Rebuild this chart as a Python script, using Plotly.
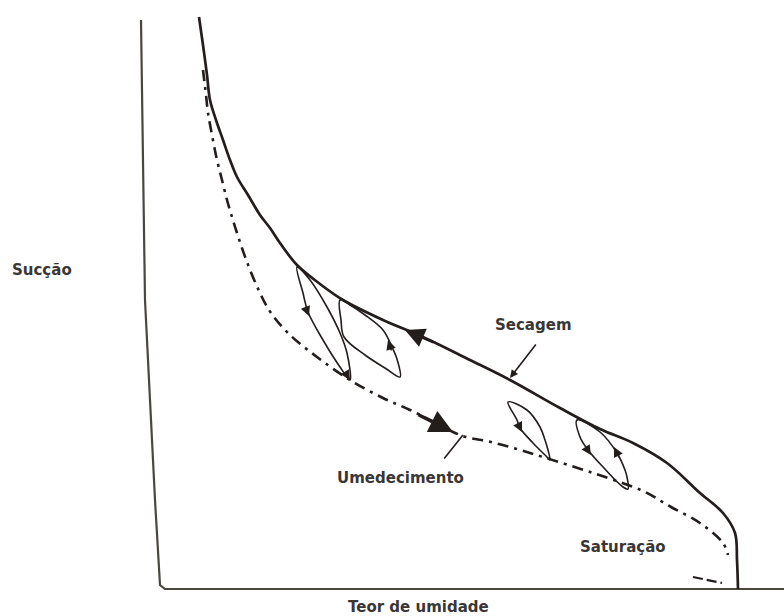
import plotly.graph_objects as go

# Soil-water retention hysteresis (qualitative). x = teor de umidade, y = sucção (arbitrary units)
drying_x = [38, 42, 46, 49, 55, 62, 69, 76, 87, 99, 109, 119, 136, 159, 182, 222, 262, 309, 349, 399, 439, 472, 506, 539, 562, 574, 576, 577]
drying_y = [572, 544, 514, 489, 469, 449, 429, 412, 394, 374, 361, 346, 324, 305, 289, 269, 252, 229, 209, 181, 160, 146, 126, 96, 76, 56, 29, 0]

wetting_x = [42, 45, 47, 51, 56, 61, 66, 71, 76, 86, 99, 110, 128, 156, 189, 222, 249, 279, 292, 305, 330, 356, 382, 432, 482, 510, 539, 562, 567]
wetting_y = [519, 494, 476, 454, 429, 409, 389, 372, 356, 327, 296, 276, 255, 232, 209, 191, 179, 164, 157, 152, 147, 140, 132, 116, 98, 82, 66, 46, 34]

sat_x = [532, 561]
sat_y = [12, 6]

loopA_x = [136, 142, 147, 162, 179, 189, 186, 179, 166, 149, 136]
loopA_y = [322, 296, 277, 249, 222, 209, 236, 256, 282, 309, 322]
loopB_x = [179, 180, 183, 204, 224, 239, 236, 231, 222, 204, 189, 179]
loopB_y = [289, 269, 252, 234, 221, 212, 230, 242, 259, 274, 284, 289]
loopC_x = [347, 356, 359, 372, 386, 389, 387, 384, 379, 366, 347]
loopC_y = [187, 169, 161, 146, 132, 129, 139, 149, 162, 179, 187]
loopD_x = [416, 419, 427, 442, 462, 467, 466, 464, 456, 439, 416]
loopD_y = [169, 152, 139, 122, 102, 100, 112, 119, 136, 157, 169]

# frame (hand-drawn axes of the original figure)
axis_x = [-20, -16, -6, -1, 4, 623]
axis_y = [569, 289, 89, 4, 0, 0]

labels = ["Sucção", "Secagem", "Umedecimento", "Saturação", "Teor de umidade"]
label_x = [-119, 372, 239, 462, 257]
label_y = [319, 264, 111, 42, -18]

INK = "#231d1c"
fig = go.Figure()
fig.add_trace(go.Scatter(x=axis_x, y=axis_y, mode="lines",
                         line=dict(color="#4a4640", width=2.2), hoverinfo="skip"))
fig.add_trace(go.Scatter(x=drying_x, y=drying_y, mode="lines", line_shape="spline",
                         line=dict(color=INK, width=2.7), name="Secagem"))
fig.add_trace(go.Scatter(x=wetting_x, y=wetting_y, mode="lines", line_shape="spline",
                         line=dict(color=INK, width=2.6, dash="11px,6px,3px,6px"), name="Umedecimento"))
fig.add_trace(go.Scatter(x=sat_x, y=sat_y, mode="lines",
                         line=dict(color=INK, width=2.2, dash="10px,4px"), name="Saturação"))
for lx, ly in [(loopA_x, loopA_y), (loopB_x, loopB_y), (loopC_x, loopC_y), (loopD_x, loopD_y)]:
    fig.add_trace(go.Scatter(x=lx, y=ly, mode="lines", line_shape="spline",
                             line=dict(color=INK, width=1.6), hoverinfo="skip"))

def arrow(tip, tail, size=1.0, width=1.5, head=2):
    fig.add_annotation(x=tip[0], y=tip[1], ax=tail[0], ay=tail[1], xref="x", yref="y",
                       axref="x", ayref="y", showarrow=True, arrowhead=head,
                       arrowsize=size, arrowwidth=width, arrowcolor=INK, text="",
                       standoff=0, startstandoff=0)

# main direction arrows
arrow((244, 259), (274, 246), size=1.5, width=2.6)
arrow((292, 157), (256, 175), size=1.3, width=3.6)
# label pointers
arrow((349, 211), (376, 246), size=1.0, width=1.6)
arrow((302, 154), (282, 129), size=1.0, width=1.6, head=0)
# scanning loop arrows
arrow((148, 273), (144, 283), size=1.3, width=1.5)
arrow((189, 209), (184, 217), size=1.3, width=1.5)
arrow((227, 249), (231, 237), size=1.3, width=1.5)
arrow((361, 157), (357, 165), size=1.3, width=1.5)
arrow((430, 134), (424, 143), size=1.3, width=1.5)
arrow((453, 142), (459, 130), size=1.3, width=1.5)

for t, x, y in zip(labels, label_x, label_y):
    fig.add_annotation(x=x, y=y, xref="x", yref="y", text="<b>" + t + "</b>", showarrow=False,
                       font=dict(family="DejaVu Sans", size=15, color="#3a3636"))

fig.update_layout(width=784, height=616, margin=dict(l=0, r=0, t=0, b=0),
                  paper_bgcolor="white", plot_bgcolor="white", showlegend=False,
                  xaxis=dict(range=[-161, 623], visible=False),
                  yaxis=dict(range=[-27, 589], visible=False))
fig.write_html("out.html", config={"displayModeBar": False},
               post_script="document.body.style.margin='0';document.body.style.overflow='hidden';")
